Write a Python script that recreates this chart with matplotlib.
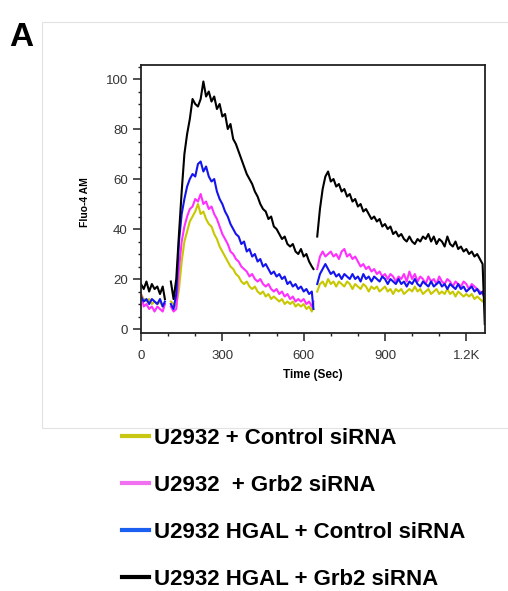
# calcium_flux_plot.py
# Fluo-4 AM calcium flux traces, U2932 cells with control / Grb2 siRNA

import numpy as np
import matplotlib.pyplot as plt
from matplotlib.lines import Line2D
from matplotlib.patches import Rectangle
from matplotlib.ticker import MultipleLocator, FixedLocator, FixedFormatter

plt.rcParams['font.family'] = ['Liberation Sans', 'DejaVu Sans']

nan = np.nan

# sampling times (sec) - three recording segments separated by gaps
time = (list(range(0, 81, 10)) + [88] + [98]
        + list(range(110, 631, 10)) + [636] + [642]
        + list(range(650, 1261, 10)) + [1268])

# nan = gap between segments
yellow = ([14, 12, 11, 12, 10, 11, 10, 11, 9, 10] + [nan]
          + [11, 10, 9, 16, 27, 35, 39, 43, 45, 47,
             50, 46, 47, 44, 42, 41, 38, 36, 33, 31,
             29, 27, 25, 24, 22, 21, 19, 18, 19, 17,
             16, 17, 15, 14, 15, 13, 14, 12, 13, 12,
             11, 12, 10, 11, 10, 11, 9, 10, 9, 10,
             8, 9, 7, 10] + [nan]
          + [15, 18, 19, 17, 20, 18, 19, 17, 19, 18,
             17, 19, 18, 16, 18, 17, 16, 18, 17, 15,
             17, 16, 17, 15, 16, 17, 15, 16, 14, 16,
             15, 16, 14, 15, 16, 15, 17, 15, 16, 14,
             15, 16, 14, 15, 16, 14, 15, 14, 16, 14,
             15, 13, 15, 14, 13, 14, 13, 14, 12, 13,
             12, 11, 12])

pink = ([14, 9, 10, 8, 9, 7, 9, 8, 7, 10] + [nan]
        + [9, 7, 8, 24, 35, 41, 45, 48, 49, 52,
           51, 54, 50, 51, 48, 49, 46, 44, 41, 38,
           36, 34, 31, 30, 28, 27, 25, 24, 23, 21,
           22, 20, 19, 20, 18, 17, 18, 16, 15, 16,
           14, 15, 13, 14, 12, 13, 11, 12, 11, 12,
           10, 11, 9, 11] + [nan]
        + [24, 29, 31, 29, 30, 31, 29, 30, 28, 31,
           32, 29, 30, 28, 29, 27, 25, 26, 24, 25,
           23, 24, 22, 23, 21, 22, 20, 22, 21, 19,
           21, 20, 22, 19, 23, 20, 22, 19, 21, 20,
           18, 21, 19, 20, 18, 21, 19, 18, 20, 19,
           17, 19, 18, 17, 19, 18, 16, 18, 17, 16,
           15, 14, 13])

blue = ([13, 11, 12, 10, 12, 11, 10, 12, 9, 11] + [nan]
        + [10, 8, 14, 35, 46, 52, 57, 60, 62, 61,
           66, 67, 63, 65, 61, 59, 60, 55, 52, 50,
           47, 45, 42, 40, 38, 37, 34, 35, 31, 32,
           29, 30, 27, 28, 25, 26, 24, 22, 23, 21,
           22, 20, 21, 18, 19, 17, 18, 16, 17, 15,
           16, 14, 15, 8] + [nan]
        + [18, 22, 24, 26, 24, 22, 23, 21, 22, 20,
           22, 21, 20, 22, 20, 21, 19, 22, 20, 21,
           19, 21, 20, 19, 21, 20, 18, 20, 19, 18,
           20, 18, 19, 17, 19, 18, 20, 18, 17, 19,
           18, 17, 19, 17, 18, 19, 17, 18, 16, 18,
           17, 16, 18, 16, 17, 15, 16, 17, 15, 16,
           14, 15, 12])

black = ([18, 16, 19, 15, 18, 16, 17, 14, 17, 12] + [nan]
         + [19, 12, 20, 38, 55, 70, 78, 84, 92, 90,
            89, 92, 99, 93, 95, 91, 93, 88, 90, 85,
            86, 80, 82, 76, 74, 71, 68, 65, 62, 60,
            58, 55, 53, 50, 48, 47, 44, 45, 41, 40,
            38, 36, 37, 34, 33, 34, 31, 30, 32, 29,
            30, 27, 25, 24] + [nan]
         + [37, 48, 56, 61, 63, 59, 60, 57, 58, 55,
            56, 53, 54, 51, 52, 49, 50, 47, 48, 46,
            44, 45, 43, 44, 41, 42, 40, 41, 38, 39,
            37, 38, 36, 35, 37, 35, 34, 36, 35, 37,
            36, 38, 35, 37, 34, 36, 35, 33, 37, 34,
            33, 35, 32, 33, 31, 32, 30, 31, 29, 30,
            28, 26, 2])

labels = ['U2932 + Control siRNA', 'U2932  + Grb2 siRNA',
          'U2932 HGAL + Control siRNA', 'U2932 HGAL + Grb2 siRNA']
line_colors = ['#c8c800', '#ff30ff', '#1414ee', '#000000']
legend_colors = ['#c8c814', '#f070f0', '#1a5ff0', '#000000']

xticks = [0, 300, 600, 900, 1200]
xticklabels = ['0', '300', '600', '900', '1.2K']

fig = plt.figure(figsize=(5.08, 5.91), dpi=100)
ax = fig.add_axes([0.2776, 0.4365, 0.6772, 0.4535])

for y, c in zip([yellow, pink, blue, black], line_colors):
    ax.plot(time, y, color=c, lw=1.5)

ax.set_xlim(0, 1269)
ax.set_ylim(-1.6, 105.6)

ax.xaxis.set_major_locator(FixedLocator(xticks))
ax.xaxis.set_major_formatter(FixedFormatter(xticklabels))
ax.xaxis.set_minor_locator(MultipleLocator(100))
ax.set_yticks(range(0, 101, 20))
ax.yaxis.set_minor_locator(MultipleLocator(5))

ax.tick_params(which='major', direction='out', length=5.5, width=1.1,
               labelsize=9.5, labelcolor='#333333', color='#222222')
ax.tick_params(axis='x', which='major', pad=7)
ax.tick_params(axis='y', which='major', pad=4)
ax.tick_params(which='minor', direction='out', length=2.3, width=1.0, color='#222222')

for s in ax.spines.values():
    s.set_linewidth(1.3)
    s.set_color('#222222')

ax.set_ylabel('Fluo-4 AM', fontsize=7.5, fontweight='bold')
ax.yaxis.set_label_coords(-0.148, 0.49)
ax.set_xlabel('Time (Sec)', fontsize=8.5, fontweight='bold')
ax.xaxis.set_label_coords(0.5, -0.134)

# light frame around the plot panel
fig.add_artist(Rectangle((0.0827, 0.2758), 0.95, 0.687, transform=fig.transFigure,
                         fill=False, ec='#e2e2e2', lw=0.8))

fig.text(0.018, 0.962, 'A', fontsize=24, fontweight='bold', va='top', ha='left')

handles = [Line2D([], [], color=c, lw=3) for c in legend_colors]
fig.legend(handles, labels, loc='upper left', bbox_to_anchor=(0.240, 0.2755),
           frameon=False, handlelength=1.2, handletextpad=0.25,
           labelspacing=1.17, borderaxespad=0, borderpad=0,
           prop={'weight': 'bold', 'size': 16})

fig.savefig('out.png', dpi=100)
